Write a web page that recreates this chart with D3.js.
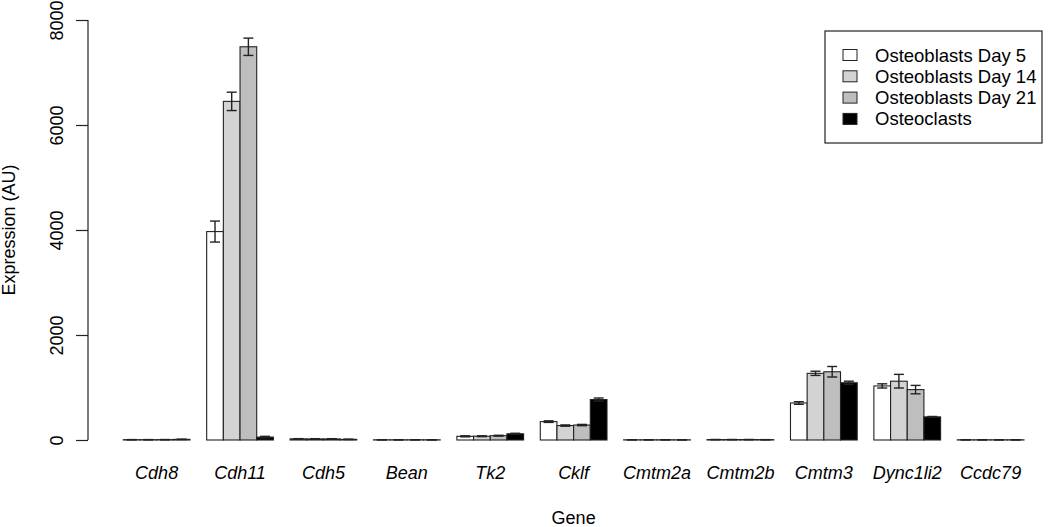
<!DOCTYPE html>
<html lang="en">
<head>
  <meta charset="UTF-8" />
  <title>Expression by gene</title>
  <script src="https://d3js.org/d3.v7.min.js"></script>
  <style>
    body { margin: 0; background: #fff; }
    svg { display: block; font-family: "Liberation Sans", Arial, sans-serif; }
  </style>
</head>
<body>
  <svg id="chart" width="1050" height="527"></svg>

  <script>
    const genes = ["Cdh8", "Cdh11", "Cdh5", "Bean", "Tk2", "Cklf", "Cmtm2a", "Cmtm2b", "Cmtm3", "Dync1li2", "Ccdc79"];
    const seriesNames = ["Osteoblasts Day 5", "Osteoblasts Day 14", "Osteoblasts Day 21", "Osteoclasts"];

    // mean expression per gene
    const day5 = [6, 3970, 22, 4, 70, 350, 4, 8, 705, 1030, 4];
    const day14 = [6, 6450, 20, 4, 72, 275, 4, 8, 1270, 1120, 4];
    const day21 = [7, 7490, 20, 4, 82, 285, 4, 8, 1300, 960, 4];
    const osteoclasts = [12, 55, 12, 3, 118, 770, 3, 6, 1090, 440, 3];

    // standard errors
    const err5 = [2, 200, 4, 1, 10, 15, 1, 2, 25, 40, 1];
    const err14 = [2, 175, 4, 1, 8, 12, 1, 2, 40, 130, 1];
    const err21 = [2, 165, 4, 1, 8, 12, 1, 2, 100, 80, 1];
    const errOc = [3, 15, 3, 1, 10, 30, 1, 1, 30, 8, 1];

    const yTicks = [0, 2000, 4000, 6000, 8000];
    const fills = ["#ffffff", "#d3d3d3", "#bebebe", "#000000"];

    const means = [day5, day14, day21, osteoclasts];
    const errs = [err5, err14, err21, errOc];

    const svg = d3.select("#chart");

    // R barplot units: each gene = 1 unit space + 4 bars
    const x = d3.scaleLinear().domain([0, genes.length * 5]).range([106.6, 1024]);
    const y = d3.scaleLinear().domain([0, 8000]).range([440, 20]);

    const bars = [];
    genes.forEach((g, gi) => {
      means.forEach((s, si) => {
        bars.push({ gene: g, si, value: s[gi], err: errs[si][gi], u: gi * 5 + 1 + si });
      });
    });

    svg.append("g").selectAll("rect")
      .data(bars)
      .enter().append("rect")
      .attr("x", d => x(d.u))
      .attr("y", d => y(d.value))
      .attr("width", x(1) - x(0))
      .attr("height", d => y(0) - y(d.value))
      .attr("fill", d => fills[d.si])
      .attr("stroke", "#222")
      .attr("stroke-width", 1.1);

    // error bars
    const eb = svg.append("g").attr("stroke", "#222").attr("stroke-width", 1.4);
    bars.forEach(d => {
      const cx = x(d.u + 0.5);
      const y1 = y(d.value + d.err), y2 = y(d.value - d.err);
      eb.append("line").attr("x1", cx).attr("x2", cx).attr("y1", y1).attr("y2", y2);
      eb.append("line").attr("x1", cx - 5).attr("x2", cx + 5).attr("y1", y1).attr("y2", y1);
      eb.append("line").attr("x1", cx - 5).attr("x2", cx + 5).attr("y1", y2).attr("y2", y2);
    });

    // y axis
    const yAxis = svg.append("g")
      .attr("transform", "translate(88,0)")
      .call(d3.axisLeft(y).tickValues(yTicks).tickSize(12).tickFormat(d3.format("d")));
    yAxis.select(".domain").attr("d", `M0,${y(0)}V${y(8000)}`).attr("stroke", "#222").attr("stroke-width", 1.2);
    yAxis.selectAll(".tick line").attr("stroke", "#222").attr("stroke-width", 1.2);
    yAxis.selectAll(".tick text")
      .attr("x", 0).attr("y", 0).attr("dy", null)
      .attr("text-anchor", "middle")
      .attr("transform", "translate(-25,0) rotate(-90)")
      .style("font-size", "18px")
      .attr("fill", "#000");

    // gene labels
    svg.append("g").selectAll("text")
      .data(genes)
      .enter().append("text")
      .attr("x", (d, i) => x(i * 5 + 3))
      .attr("y", 479)
      .attr("text-anchor", "middle")
      .style("font-size", "18px")
      .style("font-style", "italic")
      .text(d => d);

    svg.append("text")
      .attr("x", x(genes.length * 5 / 2 + 0.5))
      .attr("y", 524)
      .attr("text-anchor", "middle")
      .style("font-size", "18px")
      .text("Gene");

    svg.append("text")
      .attr("transform", `translate(15,${y(4000)}) rotate(-90)`)
      .attr("text-anchor", "middle")
      .style("font-size", "18px")
      .text("Expression (AU)");

    // legend
    const legend = svg.append("g");
    legend.append("rect")
      .attr("x", 825).attr("y", 31).attr("width", 217).attr("height", 112)
      .attr("fill", "#fff").attr("stroke", "#222").attr("stroke-width", 1.2);
    seriesNames.forEach((s, i) => {
      const cy = 55 + i * 21.3;
      legend.append("rect")
        .attr("x", 843).attr("y", cy - 5.5).attr("width", 14).attr("height", 11)
        .attr("fill", fills[i]).attr("stroke", "#222").attr("stroke-width", 1);
      legend.append("text")
        .attr("x", 875).attr("y", cy + 6.5)
        .style("font-size", "18.5px")
        .text(s);
    });
  </script>
</body>
</html>
